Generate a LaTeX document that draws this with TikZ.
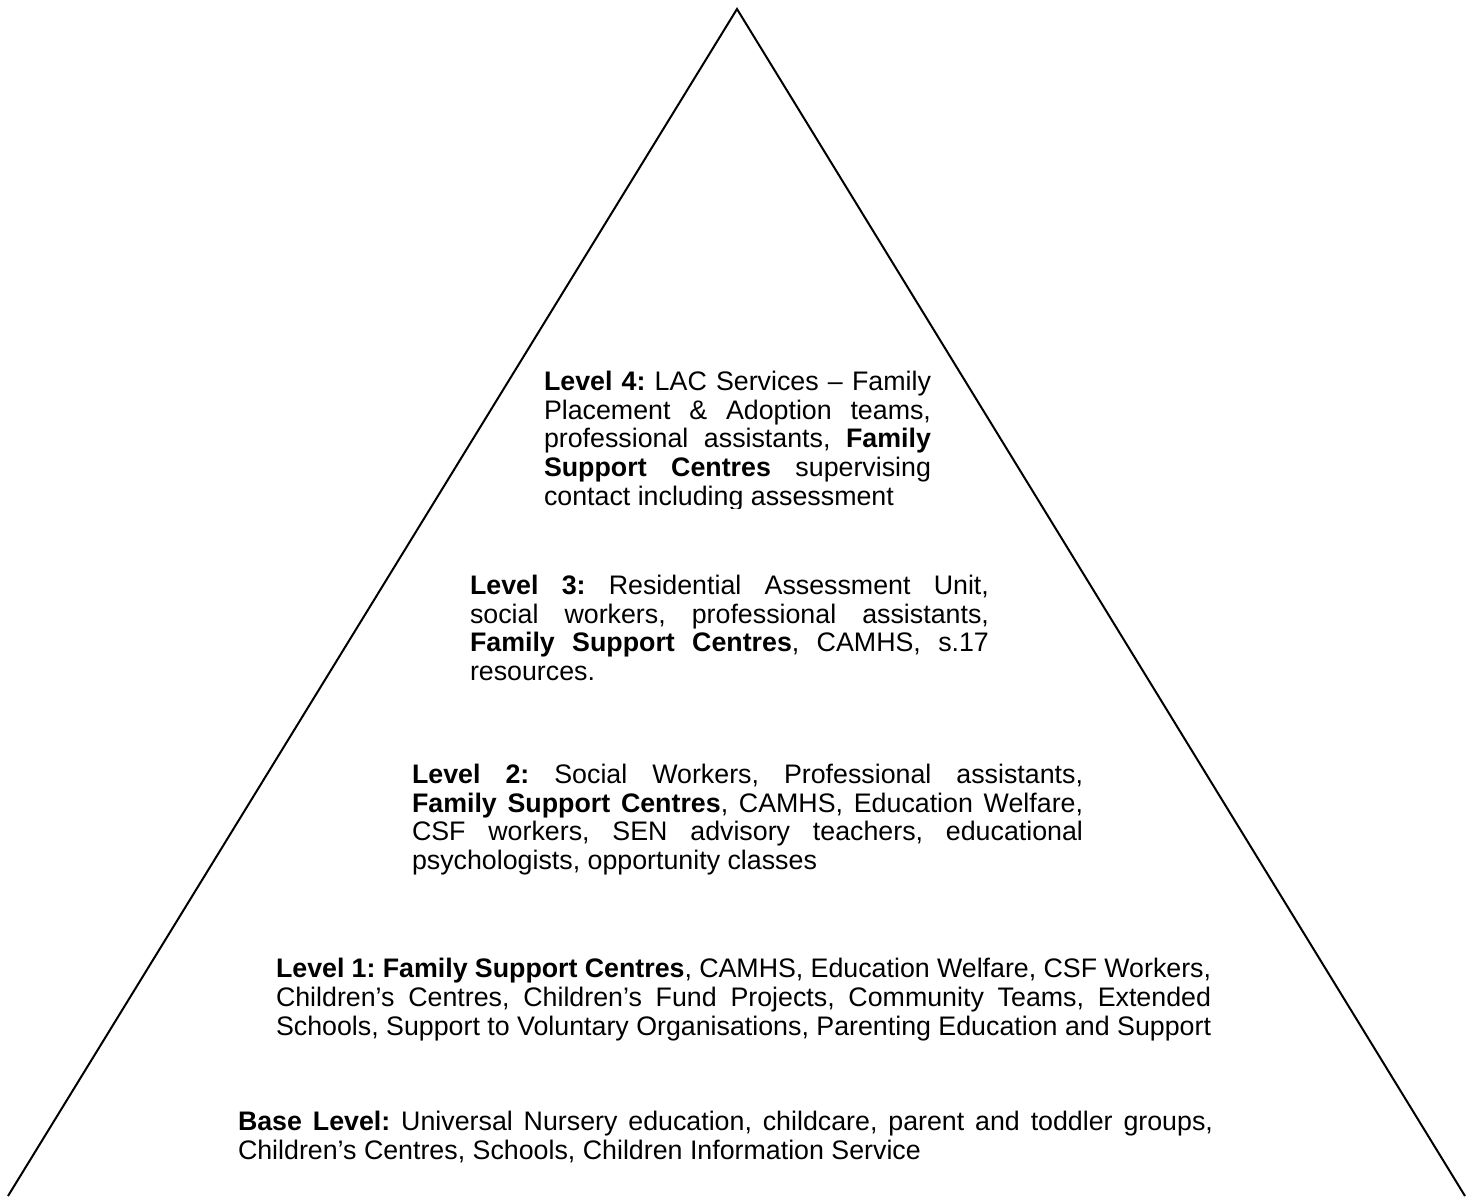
\documentclass[tikz,border=0pt]{standalone}
\usepackage{fontspec}
\setmainfont{Liberation Sans}
\usepackage{tikz}
\tolerance=10000
\hbadness=10000
\hyphenpenalty=10000
\frenchspacing

\begin{document}
\begin{tikzpicture}[x=0.476pt,y=-0.476pt,line width=0.95pt,
  levelbox/.style={anchor=base west,inner sep=0pt,align=justify,
    font=\fontsize{12.75}{13.8}\selectfont}]
\useasboundingbox (0,0) rectangle (1476,1196);

\coordinate (apex) at (737,9);
\coordinate (bl) at (8,1196);
\coordinate (br) at (1465,1196);
\draw (bl)--(apex)--(br);

\begin{scope}
\clip (535,360) rectangle (940,508);
\node[levelbox,text width=184.2pt] (lvl4) at (543,390)
 {\textbf{Level 4:} LAC Services -- Family\linebreak
 Placement \& Adoption teams,\linebreak
 professional assistants, \textbf{Family}\linebreak
 \textbf{Support Centres} supervising\linebreak
 contact including assessment};
\end{scope}

\node[levelbox,text width=247.0pt] (lvl3) at (469,594)
 {\textbf{Level 3:} Residential Assessment Unit,\linebreak
 social workers, professional assistants,\linebreak
 \textbf{Family Support Centres}, CAMHS, s.17\linebreak
 resources.};

\node[levelbox,text width=319.4pt] (lvl2) at (411,783)
 {\textbf{Level 2:} Social Workers, Professional assistants,\linebreak
 \textbf{Family Support Centres}, CAMHS, Education Welfare,\linebreak
 CSF workers, SEN advisory teachers, educational\linebreak
 psychologists, opportunity classes};

\node[levelbox,text width=445.1pt] (lvl1) at (275,977)
 {\textbf{Level 1: Family Support Centres}, CAMHS, Education Welfare, CSF Workers,\linebreak
 Children’s Centres, Children’s Fund Projects, Community Teams, Extended\linebreak
 Schools, Support to Voluntary Organisations, Parenting Education and Support};

\node[levelbox,text width=464.1pt] (lvl0) at (237,1130)
 {\textbf{Base Level:} Universal Nursery education, childcare, parent and toddler groups,\linebreak
 Children’s Centres, Schools, Children Information Service};
\end{tikzpicture}
\end{document}
